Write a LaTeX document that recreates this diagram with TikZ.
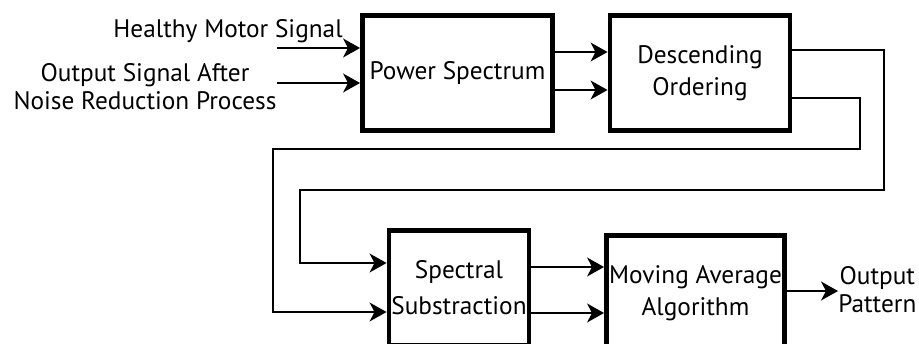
\documentclass[tikz,border=0pt]{standalone}
\usepackage{xcolor}
\usepackage{fontspec}
\setmainfont{PT Sans}
\usepackage{tikz}
\usetikzlibrary{arrows.meta, positioning, calc}

\tikzset{
    blockbox/.style={draw, line width=2.8pt, align=center, inner sep=0pt},
    flow/.style={line width=0.8pt, -{Stealth[length=0.34cm, width=0.38cm, inset=0.1cm]}},
    wire/.style={line width=0.8pt},
}

\begin{document}
\begin{tikzpicture}[font=\fontsize{14.4}{18.5}\selectfont]
    \useasboundingbox (0,0) rectangle (18.38,6.86);

    % Blocks
    \node[blockbox, minimum width=3.8cm, minimum height=2.3cm] (ps) at (9.15,5.4) {Power Spectrum};
    \node[blockbox, minimum width=3.6cm, minimum height=2.3cm] (do) at (14.0,5.4) {Descending\\Ordering};
    \node[blockbox, minimum width=2.8cm, minimum height=2.3cm] (ss) at (9.18,1.1) {Spectral\\[2pt]Substraction};
    \node[blockbox, minimum width=3.56cm, minimum height=2.3cm] (ma) at (13.91,1.0) {Moving Average\\Algorithm};

    % Input texts
    \node[anchor=east, inner sep=0pt] (hms) at (6.86,6.24) {Healthy Motor Signal};
    \node[align=center, inner sep=0pt, font=\fontsize{14.4}{16}\selectfont] (osa) at (2.9,5.12) {Output Signal After\\Noise Reduction Process};
    \node[align=center, inner sep=0pt, anchor=west, font=\fontsize{14.4}{16}\selectfont] (op) at (16.76,1.06) {Output\\Pattern};

    % Inputs
    \coordinate (in1) at (5.54,5.9);
    \coordinate (in2) at (5.54,5.2);
    \draw[flow] (in1) -- (in1 -| ps.west);
    \draw[flow] (in2) -- (in2 -| ps.west);

    % Power Spectrum -> Descending Ordering
    \draw[flow] ([yshift=0.42cm]ps.east) -- ([yshift=0.42cm]ps.east -| do.west);
    \draw[flow] ([yshift=-0.34cm]ps.east) -- ([yshift=-0.34cm]ps.east -| do.west);

    % Feedback lines down to Spectral Substraction
    \coordinate (b1) at (17.68,3.06);
    \coordinate (b2) at (6.0,3.06);
    \coordinate (b3) at (17.2,3.88);
    \coordinate (b4) at (5.46,3.88);
    \draw[flow] ([yshift=0.46cm]do.east) -| (b1) -- (b2) |- ([yshift=0.5cm]ss.west);
    \draw[flow] ([yshift=-0.5cm]do.east) -| (b3) -- (b4) |- ([yshift=-0.48cm]ss.west);

    % Spectral Substraction -> Moving Average
    \draw[flow] ([yshift=0.42cm]ss.east) -- ([yshift=0.42cm]ss.east -| ma.west);
    \draw[flow] ([yshift=-0.5cm]ss.east) -- ([yshift=-0.5cm]ss.east -| ma.west);

    % Output
    \draw[flow] ([yshift=0.04cm]ma.east) -- ([yshift=0.04cm]ma.east -| op.west);
\end{tikzpicture}
\end{document}
